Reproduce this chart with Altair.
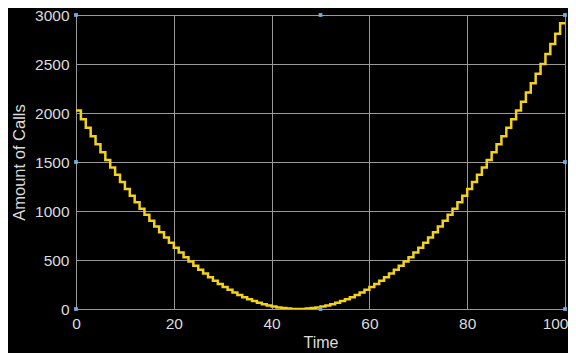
import altair as alt
import pandas as pd

# Stair-step series (one step per time unit)
time = list(range(0, 101))
calls = [2025, 1936, 1849, 1764, 1681, 1600, 1521, 1444, 1369, 1296,
         1225, 1156, 1089, 1024, 961, 900, 841, 784, 729, 676,
         625, 576, 529, 484, 441, 400, 361, 324, 289, 256,
         225, 196, 169, 144, 121, 100, 81, 64, 49, 36,
         25, 16, 9, 4, 1, 0, 1, 4, 9, 16,
         25, 36, 49, 64, 81, 100, 121, 144, 169, 196,
         225, 256, 289, 324, 361, 400, 441, 484, 529, 576,
         625, 676, 729, 784, 841, 900, 961, 1024, 1089, 1156,
         1225, 1296, 1369, 1444, 1521, 1600, 1681, 1764, 1849, 1936,
         2025, 2116, 2209, 2304, 2401, 2500, 2601, 2704, 2809, 2916,
         2916]

# Selection handles (blue dots) on the axes box
handle_x = [0, 0, 0, 50, 50, 100, 100, 100]
handle_y = [0, 1500, 3000, 0, 3000, 0, 1500, 3000]

x_ticks = [0, 20, 40, 60, 80, 100]
y_ticks = [0, 500, 1000, 1500, 2000, 2500, 3000]

df = pd.DataFrame({"Time": time, "Calls": calls})
hdf = pd.DataFrame({"Time": handle_x, "Calls": handle_y})

FONT = "Liberation Sans"

xscale = alt.Scale(domain=[0, 100], nice=False, zero=False)
yscale = alt.Scale(domain=[0, 3000], nice=False)

xaxis = alt.Axis(
    values=x_ticks, title="Time", grid=True, domain=False, ticks=False,
    labelPadding=7, titlePadding=3, format="d", labelFlush=False,
    labelAlign={"condition": {"test": "datum.value == 100", "value": "right"}, "value": "center"},
    labelOffset={"condition": {"test": "datum.value == 100", "value": 3}, "value": 0},
)
yaxis = alt.Axis(values=y_ticks, title="Amount of Calls", grid=True, domain=False,
                 ticks=False, labelPadding=7, titlePadding=7, format="d",
                 titleFontSize=16.5)

line = alt.Chart(df).mark_line(
    interpolate="step-after", color="#f2d21b", strokeWidth=2.5, clip=True
).encode(
    x=alt.X("Time:Q", scale=xscale, axis=xaxis),
    y=alt.Y("Calls:Q", scale=yscale, axis=yaxis),
)

handles = alt.Chart(hdf).mark_square(
    color="#6fb0e6", size=14, opacity=1
).encode(
    x=alt.X("Time:Q", scale=xscale),
    y=alt.Y("Calls:Q", scale=yscale),
)

chart = (line + handles).properties(
    width=489,
    height=294,
    background="#000000",
    autosize=alt.AutoSizeParams(type="none"),
    padding={"left": 68, "top": 7, "right": 3, "bottom": 44},
).configure_view(
    stroke="#9a9a9a", strokeWidth=1, fill="#000000"
).configure_axis(
    gridColor="#9a9a9a", gridWidth=1, gridOpacity=1,
    labelColor="#dcdcdc", titleColor="#dcdcdc",
    labelFont=FONT, titleFont=FONT,
    labelFontSize=15.5, titleFontSize=16, titleFontWeight="normal",
)

chart.save("out.html", embed_options={"renderer": "svg", "actions": False})
